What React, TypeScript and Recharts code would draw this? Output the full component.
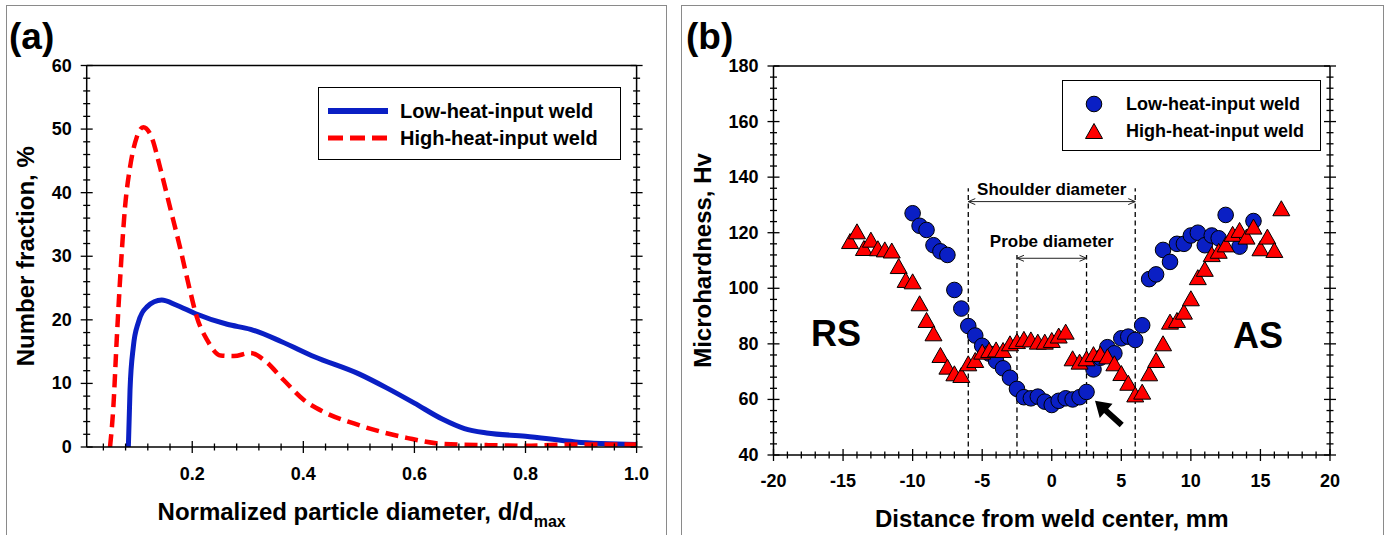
import React from 'react';
import {
  LineChart,
  Line,
  ScatterChart,
  Scatter,
  XAxis,
  YAxis,
  ReferenceLine,
  ReferenceDot,
  Legend,
} from 'recharts';

const FONT = "'Liberation Sans', Arial, Helvetica, sans-serif";
const BLUE = '#0a1fc4';
const RED = '#ff0000';

// (a) particle size distribution, x = d/dmax, y = number fraction %
const lowHeatDist = [
  { x: 0.085, y: 0 }, { x: 0.088, y: 9 }, { x: 0.094, y: 15.8 }, { x: 0.103, y: 19.6 },
  { x: 0.118, y: 22.0 }, { x: 0.145, y: 23.1 }, { x: 0.172, y: 22.3 }, { x: 0.205, y: 21.0 },
  { x: 0.263, y: 19.3 }, { x: 0.305, y: 18.5 }, { x: 0.36, y: 16.6 }, { x: 0.42, y: 14.2 },
  { x: 0.5, y: 11.5 }, { x: 0.55, y: 9.3 }, { x: 0.6, y: 6.9 }, { x: 0.65, y: 4.4 },
  { x: 0.69, y: 2.9 }, { x: 0.73, y: 2.2 }, { x: 0.8, y: 1.7 }, { x: 0.89, y: 0.8 },
  { x: 1.0, y: 0.4 },
];

const highHeatDist = [
  { x: 0.052, y: 0 }, { x: 0.058, y: 6.3 }, { x: 0.064, y: 16.8 }, { x: 0.07, y: 26.2 },
  { x: 0.079, y: 37.7 }, { x: 0.088, y: 44 }, { x: 0.1, y: 48.7 }, { x: 0.112, y: 50.3 },
  { x: 0.127, y: 48.7 }, { x: 0.142, y: 44 }, { x: 0.16, y: 37.7 }, { x: 0.178, y: 31.4 },
  { x: 0.196, y: 24.6 }, { x: 0.208, y: 20.5 }, { x: 0.227, y: 16.8 }, { x: 0.251, y: 14.4 },
  { x: 0.275, y: 14.3 }, { x: 0.305, y: 14.8 }, { x: 0.329, y: 13.7 }, { x: 0.365, y: 10.5 },
  { x: 0.401, y: 7.4 }, { x: 0.437, y: 5.5 }, { x: 0.491, y: 3.7 }, { x: 0.54, y: 2.4 },
  { x: 0.588, y: 1.4 }, { x: 0.65, y: 0.5 }, { x: 0.73, y: 0.3 }, { x: 0.8, y: 0.2 },
  { x: 0.89, y: 0.4 }, { x: 1.0, y: 0.4 },
];

const distXLabels = [0.2, 0.4, 0.6, 0.8, 1.0];
const distYLabels = [0, 10, 20, 30, 40, 50, 60];

// (b) microhardness profile, x = mm from weld center, y = Hv
const lowHeatHv = [
  [-10, 127], [-9.5, 122.5], [-9, 121], [-8.5, 115.5], [-8, 113.3], [-7.5, 112], [-7, 99.4],
  [-6.5, 92.7], [-6, 86.4], [-5.5, 83], [-5, 79.3], [-4.5, 76.5], [-4, 73.8], [-3.5, 71.2],
  [-3, 67.8], [-2.5, 63.8], [-2, 60.8], [-1.5, 60.4], [-1, 61], [-0.5, 59.2], [0, 58],
  [0.5, 59.5], [1, 60.4], [1.5, 60], [2, 60.8], [2.5, 62.7], [3, 70.8], [3.5, 75], [4, 78.8],
  [4.5, 76.6], [5, 82], [5.5, 82.6], [6, 81.4], [6.5, 86.7], [7, 103.3], [7.5, 105],
  [8, 113.8], [8.5, 109.5], [9, 116], [9.5, 116], [10, 119], [10.5, 120], [11, 115.5],
  [11.5, 119], [12, 118], [12.5, 126.4], [13.5, 115], [14.5, 124.2],
].map(([x, y]) => ({ x, y }));

const highHeatHv = [
  [-14.5, 117], [-14, 120.5], [-13.5, 114.5], [-13, 117.5], [-12.5, 114.4], [-12, 114],
  [-11.5, 113.6], [-11, 108], [-10.5, 103], [-10, 102.5], [-9.5, 94.6], [-9, 88.6],
  [-8.5, 83.8], [-8, 76], [-7.5, 71.8], [-7, 69.4], [-6.5, 68.8], [-6, 73], [-5.5, 74.2],
  [-5, 77.2], [-4.5, 77.8], [-4, 78], [-3.5, 77.8], [-3, 80.2], [-2.5, 81], [-2, 81.8],
  [-1.5, 81.6], [-1, 80.8], [-0.5, 80.8], [0, 81.4], [0.5, 83], [1, 84.4], [1.5, 74.8],
  [2, 73.6], [2.5, 74.8], [3, 76.3], [3.5, 76.4], [4, 75.5], [4.5, 73], [5, 69.5], [5.5, 66],
  [6, 61.8], [6.5, 62.8], [7, 69.4], [7.5, 74.2], [8, 80.2], [8.5, 88], [9, 88.6],
  [9.5, 91.6], [10, 96.4], [10.5, 104], [11, 107], [11.5, 112.3], [12, 113.5], [12.5, 115.8],
  [13, 119.6], [13.5, 121], [14, 118.6], [14.5, 122.2], [15, 114.4], [15.5, 118.6],
  [16, 113.8], [16.5, 128.8],
].map(([x, y]) => ({ x, y }));

const hvXLabels = [-20, -15, -10, -5, 0, 5, 10, 15, 20];
const hvYLabels = [40, 60, 80, 100, 120, 140, 160, 180];

// tool dimensions (mm) and annotation heights (Hv)
const shoulderEdges = [-6, 6];
const probeEdges = [-2.5, 2.5];
const shoulder = { label: 'Shoulder diameter', top: 136, arrowY: 131.2 };
const probe = { label: 'Probe diameter', top: 112, arrowY: 110.8 };
const sideLabels = [
  { text: 'RS', x: -15.5, y: 83.9 },
  { text: 'AS', x: 14.83, y: 83.2 },
];
const pointer = { from: { x: 5.03, y: 50.8 }, to: { x: 3.11, y: 59.5 } };

const SERIES = ['Low-heat-input weld', 'High-heat-input weld'];

// minor tick positions between the labelled ones
const stepTicks = (from: number, to: number, step: number) => {
  const out: number[] = [];
  for (let v = from; v <= to + 1e-9; v += step) out.push(Math.round(v * 1000) / 1000);
  return out;
};

const tickFont = { fontFamily: FONT, fontWeight: 700, fontSize: 18, fill: '#000' };
const titleFont = { fontFamily: FONT, fontWeight: 700, fontSize: 24, fill: '#000' };

// ticks cross the frame line; labels only on bottom / left
function tickRenderer(
  dir: 'x' | 'y',
  majors: number[],
  showLabel: boolean,
  gap: number,
  fmt: (v: number) => string = (v) => String(v)
) {
  return (props: any) => {
    const { x, y, payload } = props;
    const v = payload.value;
    const major = majors.some((m) => Math.abs(m - v) < 1e-6);
    const len = major ? 6 : 3.5;
    return (
      <g>
        {dir === 'x' ? (
          <line x1={x} x2={x} y1={y - len} y2={y + len} stroke="#000" strokeWidth={1.3} />
        ) : (
          <line x1={x - len} x2={x + len} y1={y} y2={y} stroke="#000" strokeWidth={1.3} />
        )}
        {showLabel && major && dir === 'x' && (
          <text x={x} y={y + gap} textAnchor="middle" dominantBaseline="central" style={tickFont}>
            {fmt(v)}
          </text>
        )}
        {showLabel && major && dir === 'y' && (
          <text x={x - gap} y={y} textAnchor="end" dominantBaseline="central" style={tickFont}>
            {fmt(v)}
          </text>
        )}
      </g>
    );
  };
}

function bottomTitle(text: string, dy: number, plot: any, sub?: string) {
  return () => {
    const cx = plot.x + plot.width / 2;
    const y = plot.y + plot.height + dy;
    return (
      <text x={cx} y={y} textAnchor="middle" style={titleFont}>
        {text}
        {sub ? (
          <tspan dy={7} fontSize={16}>
            {sub}
          </tspan>
        ) : null}
      </text>
    );
  };
}

function leftTitle(text: string, dx: number, plot: any) {
  return () => {
    const cx = plot.x - dx;
    const cy = plot.y + plot.height / 2;
    return (
      <text
        x={cx}
        y={cy}
        transform={`rotate(-90 ${cx} ${cy})`}
        textAnchor="middle"
        dominantBaseline="central"
        style={titleFont}
      >
        {text}
      </text>
    );
  };
}

const axisLine = { stroke: '#000', strokeWidth: 1.5 };

// axes are 1px thick so that Recharts draws them; margins subtract that pixel
function plotRect(w: number, h: number, m: { top: number; right: number; bottom: number; left: number }) {
  return { x: m.left + 1, y: m.top + 1, width: w - m.left - m.right - 2, height: h - m.top - m.bottom - 2 };
}

// ---------- (a) ----------
const A_W = 680;
const A_H = 535;
const A_M = { top: 64.5, right: 42.4, bottom: 87, left: 85.7 };
const aPlot = plotRect(A_W, A_H, A_M);
const distXTicks = stepTicks(0.04, 1.0, 0.04);
const distYTicks = stepTicks(0, 60, 2);

function orderedItems(payload: any[] | undefined) {
  return SERIES.map((name) => (payload || []).find((p: any) => p.value === name) || { value: name });
}

function LegendA(props: any) {
  const items = orderedItems(props.payload);
  return (
    <div
      style={{
        position: 'relative',
        width: 303,
        height: 73,
        boxSizing: 'border-box',
        border: '1.5px solid #000',
        background: '#fff',
      }}
    >
      {items.map((it: any, i: number) => (
        <div key={i} style={{ position: 'absolute', left: 0, top: 10 + i * 27, height: 26, width: '100%' }}>
          <svg width={70} height={26} style={{ position: 'absolute', left: 0, top: 0 }}>
            <line
              x1={9}
              x2={69}
              y1={13}
              y2={13}
              stroke={i === 0 ? BLUE : RED}
              strokeWidth={i === 0 ? 6 : 5}
              strokeDasharray={i === 0 ? undefined : '15 7'}
            />
          </svg>
          <span
            style={{
              position: 'absolute',
              left: 81,
              top: 0,
              lineHeight: '26px',
              fontFamily: FONT,
              fontWeight: 700,
              fontSize: 20,
              color: '#000',
              whiteSpace: 'nowrap',
            }}
          >
            {it.value}
          </span>
        </div>
      ))}
    </div>
  );
}

function ChartA() {
  return (
    <LineChart width={A_W} height={A_H} margin={A_M}>
      <XAxis
        type="number"
        dataKey="x"
        domain={[0.01, 1]}
        allowDataOverflow
        ticks={distXTicks}
        interval={0}
        height={1}
        tickSize={0}
        tickMargin={0}
        tickLine={false}
        axisLine={axisLine}
        tick={tickRenderer('x', distXLabels, true, 27, (v) => v.toFixed(1))}
        label={bottomTitle('Normalized particle diameter, d/d', 73, aPlot, 'max')}
      />
      <XAxis
        xAxisId="top"
        orientation="top"
        type="number"
        domain={[0.01, 1]}
        allowDataOverflow
        ticks={distXTicks}
        interval={0}
        height={1}
        tickSize={0}
        tickMargin={0}
        tickLine={false}
        axisLine={axisLine}
        tick={tickRenderer('x', distXLabels, false, 0)}
      />
      <YAxis
        type="number"
        domain={[0, 60]}
        allowDataOverflow
        ticks={distYTicks}
        interval={0}
        width={1}
        tickSize={0}
        tickMargin={0}
        tickLine={false}
        axisLine={axisLine}
        tick={tickRenderer('y', distYLabels, true, 15)}
        label={leftTitle('Number fraction, %', 61.4, aPlot)}
      />
      <YAxis
        yAxisId="right"
        orientation="right"
        type="number"
        domain={[0, 60]}
        allowDataOverflow
        ticks={distYTicks}
        interval={0}
        width={1}
        tickSize={0}
        tickMargin={0}
        tickLine={false}
        axisLine={axisLine}
        tick={tickRenderer('y', distYLabels, false, 0)}
      />
      <Line
        data={lowHeatDist}
        dataKey="y"
        name={SERIES[0]}
        type="monotone"
        stroke={BLUE}
        strokeWidth={5}
        dot={false}
        isAnimationActive={false}
      />
      <Line
        data={highHeatDist}
        dataKey="y"
        name={SERIES[1]}
        type="monotone"
        stroke={RED}
        strokeWidth={4.5}
        strokeDasharray="13 7"
        dot={false}
        isAnimationActive={false}
      />
      <Legend
        layout="vertical"
        align="center"
        verticalAlign="middle"
        wrapperStyle={{ left: 318, top: 87, width: 303, height: 73 }}
        content={(p: any) => <LegendA {...p} />}
      />
    </LineChart>
  );
}

// ---------- (b) ----------
const B_W = 700;
const B_H = 535;
const B_M = { top: 65, right: 49, bottom: 79, left: 92.5 };
const bPlot = plotRect(B_W, B_H, B_M);
const hvXTicks = stepTicks(-20, 20, 1);
const hvYTicks = stepTicks(40, 180, 4);

const CircleMark = (p: any) => (
  <circle cx={p.cx} cy={p.cy} r={7.8} fill={BLUE} stroke="#000" strokeWidth={1} />
);

const TriMark = (p: any) => {
  const { cx, cy } = p;
  const w = 17;
  const h = 15;
  return (
    <polygon
      points={`${cx},${cy - h / 2} ${cx - w / 2},${cy + h / 2} ${cx + w / 2},${cy + h / 2}`}
      fill={RED}
      stroke="#000"
      strokeWidth={1}
      strokeLinejoin="miter"
    />
  );
};

const DimArrow = (p: any) => {
  const { x1, y1, x2, y2 } = p;
  const l = Math.min(x1, x2);
  const r = Math.max(x1, x2);
  const y = (y1 + y2) / 2;
  const a = 7;
  const w = 3;
  return (
    <g>
      <line x1={l} x2={r} y1={y} y2={y} stroke="#222" strokeWidth={1} />
      <polyline points={`${l + a},${y - w} ${l},${y} ${l + a},${y + w}`} fill="none" stroke="#222" strokeWidth={1} />
      <polyline points={`${r - a},${y - w} ${r},${y} ${r - a},${y + w}`} fill="none" stroke="#222" strokeWidth={1} />
    </g>
  );
};

const BigArrow = (p: any) => {
  const { x1, y1, x2, y2 } = p;
  const dx = x2 - x1;
  const dy = y2 - y1;
  const len = Math.sqrt(dx * dx + dy * dy) || 1;
  const ux = dx / len;
  const uy = dy / len;
  const nx = -uy;
  const ny = ux;
  const head = 15;
  const hw = 9.5;
  const sw = 3;
  const bx = x2 - ux * head;
  const by = y2 - uy * head;
  const pts = [
    [x1 + nx * sw, y1 + ny * sw],
    [bx + nx * sw, by + ny * sw],
    [bx + nx * hw, by + ny * hw],
    [x2, y2],
    [bx - nx * hw, by - ny * hw],
    [bx - nx * sw, by - ny * sw],
    [x1 - nx * sw, y1 - ny * sw],
  ]
    .map((q) => q.join(','))
    .join(' ');
  return <polygon points={pts} fill="#000" />;
};

const noteFont = { fontFamily: FONT, fontWeight: 700, fontSize: 17, fill: '#000' };

function LegendB(props: any) {
  const items = orderedItems(props.payload);
  return (
    <div
      style={{
        position: 'relative',
        width: 259,
        height: 71,
        boxSizing: 'border-box',
        border: '1.5px solid #000',
        background: '#fff',
      }}
    >
      {items.map((it: any, i: number) => (
        <div key={i} style={{ position: 'absolute', left: 0, top: 10 + i * 27, height: 26, width: '100%' }}>
          <svg width={60} height={26} style={{ position: 'absolute', left: 0, top: 0 }}>
            {i === 0 ? (
              <circle cx={31} cy={13} r={7.8} fill={BLUE} stroke="#000" strokeWidth={1} />
            ) : (
              <polygon points="31,5.5 22.5,20.5 39.5,20.5" fill={RED} stroke="#000" strokeWidth={1} />
            )}
          </svg>
          <span
            style={{
              position: 'absolute',
              left: 63,
              top: 0,
              lineHeight: '26px',
              fontFamily: FONT,
              fontWeight: 700,
              fontSize: 18,
              color: '#000',
              whiteSpace: 'nowrap',
            }}
          >
            {it.value}
          </span>
        </div>
      ))}
    </div>
  );
}

function ChartB() {
  return (
    <ScatterChart width={B_W} height={B_H} margin={B_M}>
      <XAxis
        type="number"
        dataKey="x"
        domain={[-20, 20]}
        allowDataOverflow
        ticks={hvXTicks}
        interval={0}
        height={1}
        tickSize={0}
        tickMargin={0}
        tickLine={false}
        axisLine={axisLine}
        tick={tickRenderer('x', hvXLabels, true, 26)}
        label={bottomTitle('Distance from weld center, mm', 72, bPlot)}
      />
      <XAxis
        xAxisId="top"
        orientation="top"
        type="number"
        domain={[-20, 20]}
        allowDataOverflow
        ticks={hvXTicks}
        interval={0}
        height={1}
        tickSize={0}
        tickMargin={0}
        tickLine={false}
        axisLine={axisLine}
        tick={tickRenderer('x', hvXLabels, false, 0)}
      />
      <YAxis
        type="number"
        dataKey="y"
        domain={[40, 180]}
        allowDataOverflow
        ticks={hvYTicks}
        interval={0}
        width={1}
        tickSize={0}
        tickMargin={0}
        tickLine={false}
        axisLine={axisLine}
        tick={tickRenderer('y', hvYLabels, true, 15)}
        label={leftTitle('Microhardness, Hv', 71.5, bPlot)}
      />
      <YAxis
        yAxisId="right"
        orientation="right"
        type="number"
        domain={[40, 180]}
        allowDataOverflow
        ticks={hvYTicks}
        interval={0}
        width={1}
        tickSize={0}
        tickMargin={0}
        tickLine={false}
        axisLine={axisLine}
        tick={tickRenderer('y', hvYLabels, false, 0)}
      />
      <Scatter data={lowHeatHv} name={SERIES[0]} fill={BLUE} shape={CircleMark} isAnimationActive={false} />
      <Scatter data={highHeatHv} name={SERIES[1]} fill={RED} shape={TriMark} isAnimationActive={false} />
      {shoulderEdges.map((e) => (
        <ReferenceLine
          key={'s' + e}
          segment={[{ x: e, y: 40 }, { x: e, y: shoulder.top }]}
          stroke="#000"
          strokeWidth={1.3}
          strokeDasharray="5 3.5"
        />
      ))}
      {probeEdges.map((e) => (
        <ReferenceLine
          key={'p' + e}
          segment={[{ x: e, y: 40 }, { x: e, y: probe.top }]}
          stroke="#000"
          strokeWidth={1.3}
          strokeDasharray="5 3.5"
        />
      ))}
      <ReferenceLine
        segment={[{ x: shoulderEdges[0], y: shoulder.arrowY }, { x: shoulderEdges[1], y: shoulder.arrowY }]}
        shape={DimArrow}
        label={{ value: shoulder.label, position: 'top', offset: 7, ...noteFont }}
      />
      <ReferenceLine
        segment={[{ x: probeEdges[0], y: probe.arrowY }, { x: probeEdges[1], y: probe.arrowY }]}
        shape={DimArrow}
        label={{ value: probe.label, position: 'top', offset: 11, ...noteFont }}
      />
      <ReferenceLine segment={[pointer.from, pointer.to]} shape={BigArrow} />
      {sideLabels.map((s) => (
        <ReferenceDot
          key={s.text}
          x={s.x}
          y={s.y}
          r={0}
          fill="none"
          stroke="none"
          label={{ value: s.text, position: 'center', fontFamily: FONT, fontWeight: 700, fontSize: 36, fill: '#000' }}
        />
      ))}
      <Legend
        layout="vertical"
        align="center"
        verticalAlign="middle"
        wrapperStyle={{ left: 382, top: 80, width: 259, height: 71 }}
        content={(p: any) => <LegendB {...p} />}
      />
    </ScatterChart>
  );
}

const panelBox = (left: number, width: number): React.CSSProperties => ({
  position: 'absolute',
  left,
  top: 5,
  width,
  height: 600,
  boxSizing: 'border-box',
  border: '1px solid #8a8a8a',
});

const panelTag: React.CSSProperties = {
  position: 'absolute',
  top: 18,
  fontFamily: FONT,
  fontWeight: 700,
  fontSize: 37,
  lineHeight: '37px',
  color: '#000',
};

export default function App() {
  return (
    <div
      style={{
        position: 'absolute',
        left: 0,
        top: 0,
        width: 1387,
        height: 535,
        overflow: 'hidden',
        background: '#fff',
      }}
    >
      <div style={panelBox(6, 661)} />
      <div style={panelBox(681, 703)} />
      <div style={{ position: 'absolute', left: 0, top: 0 }}>
        <ChartA />
      </div>
      <div style={{ position: 'absolute', left: 680, top: 0 }}>
        <ChartB />
      </div>
      <div style={{ ...panelTag, left: 9 }}>(a)</div>
      <div style={{ ...panelTag, left: 686 }}>(b)</div>
    </div>
  );
}
